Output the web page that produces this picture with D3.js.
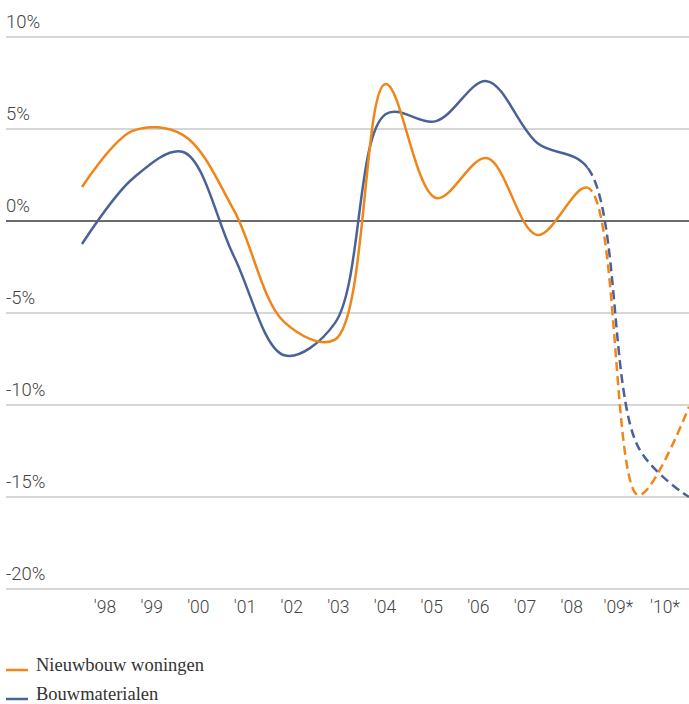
<!DOCTYPE html>
<html>
<head>
<meta charset="utf-8">
<script src="https://cdn.jsdelivr.net/npm/d3@7"></script>
<style>
  body { margin: 0; background: #fff; }
  svg { display: block; }
</style>
</head>
<body>
<svg id="chart" width="689" height="704"></svg>
<script>
const years = ['98', '99', '00', '01', '02', '03', '04', '05', '06', '07', '08', '09*', '10*']
const yearLabels = ["'98", "'99", "'00", "'01", "'02", "'03", "'04", "'05", "'06", "'07", "'08", "'09*", "'10*"]
const nieuwbouw = [1.85, 4.9, 4.67, 0.6, -5.5, -6.45, 7.45, 1.25, 3.42, -0.76, 1.8, -14.9, -10.1]
const bouwmat = [-1.25, 2.3, 3.75, -1.9, -7.3, -5.55, 5.8, 5.43, 7.6, 4.24, 2.88, -12.3, -15.0]
const yTicks = [10, 5, 0, -5, -10, -15, -20]
const forecastFrom = '08'

const series = [
  { name: 'Nieuwbouw woningen', values: nieuwbouw, color: '#f0861a' },
  { name: 'Bouwmaterialen', values: bouwmat, color: '#4a6298' }
]

const svg = d3.select('#chart')

const y = d3.scaleLinear()
  .domain([-20, 10])
  .range([589, 37])

const x = d3.scalePoint()
  .domain(years)
  .range([82, 689])

const xLabel = d3.scalePoint()
  .domain(years)
  .range([105, 665])

// gridlines + tick labels
const grid = svg.append('g')
yTicks.forEach(t => {
  grid.append('line')
    .attr('x1', 6)
    .attr('x2', 689)
    .attr('y1', y(t))
    .attr('y2', y(t))
    .attr('stroke', t === 0 ? '#3a3a3a' : '#c8c8c8')
    .attr('stroke-width', 1.5)
  grid.append('text')
    .text(`${t}%`)
    .attr('x', 6)
    .attr('y', y(t) - 9)
    .attr('font-family', 'Roboto, sans-serif')
    .attr('font-weight', 300)
    .attr('font-size', 18.5)
    .attr('fill', '#444')
})

svg.append('g')
  .selectAll('text')
  .data(years)
  .join('text')
  .text((d, i) => yearLabels[i])
  .attr('x', d => xLabel(d))
  .attr('y', 613)
  .attr('text-anchor', 'middle')
  .attr('font-family', 'Roboto, sans-serif')
  .attr('font-weight', 300)
  .attr('font-size', 17.5)
  .attr('fill', '#444')

// clip areas for actual vs forecast part
const defs = svg.append('defs')
defs.append('clipPath').attr('id', 'clip-actual')
  .append('rect')
  .attr('x', 0).attr('y', 0)
  .attr('width', x(forecastFrom)).attr('height', 704)
defs.append('clipPath').attr('id', 'clip-forecast')
  .append('rect')
  .attr('x', x(forecastFrom)).attr('y', 0)
  .attr('width', 689 - x(forecastFrom)).attr('height', 704)

const line = d3.line()
  .x((d, i) => x(years[i]))
  .y(d => y(d))
  .curve(d3.curveCatmullRom.alpha(0.5))

const lines = svg.append('g')
series.slice().reverse().forEach(s => {
  lines.append('path')
    .attr('d', line(s.values))
    .attr('fill', 'none')
    .attr('stroke', s.color)
    .attr('stroke-width', 2.5)
    .attr('clip-path', 'url(#clip-actual)')
  lines.append('path')
    .attr('d', line(s.values))
    .attr('fill', 'none')
    .attr('stroke', s.color)
    .attr('stroke-width', 2.5)
    .attr('stroke-dasharray', '9,5')
    .attr('clip-path', 'url(#clip-forecast)')
})

// legend
const legend = svg.append('g')
series.forEach((s, i) => {
  const ly = 670 + i * 29
  legend.append('line')
    .attr('x1', 6).attr('x2', 28)
    .attr('y1', ly).attr('y2', ly)
    .attr('stroke', s.color)
    .attr('stroke-width', 2.5)
  legend.append('text')
    .text(s.name)
    .attr('x', 36)
    .attr('y', ly + 1)
    .attr('font-family', '"Liberation Serif", serif')
    .attr('font-size', 18.5)
    .attr('fill', '#333')
})
</script>
</body>
</html>
